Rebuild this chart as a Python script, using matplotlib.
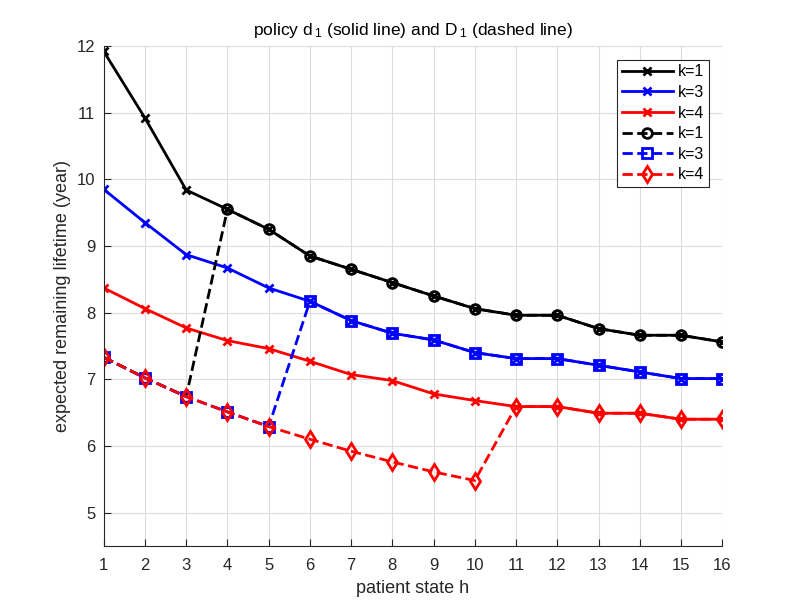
import numpy as np
import matplotlib.pyplot as plt

plt.rcParams['font.family'] = ['Liberation Sans', 'DejaVu Sans']
plt.rcParams['mathtext.fontset'] = 'custom'
plt.rcParams['mathtext.rm'] = 'Liberation Sans'
plt.rcParams['mathtext.it'] = 'Liberation Sans'

h = np.arange(1, 17)

# policy d1 (solid)
d1_k1 = [11.92, 10.92, 9.84, 9.55, 9.25, 8.85, 8.65, 8.45, 8.25, 8.06, 7.96, 7.96, 7.76, 7.66, 7.66, 7.56]
d1_k3 = [9.85, 9.35, 8.87, 8.67, 8.37, 8.17, 7.88, 7.69, 7.59, 7.40, 7.31, 7.31, 7.21, 7.11, 7.01, 7.01]
d1_k4 = [8.37, 8.06, 7.77, 7.58, 7.46, 7.27, 7.07, 6.98, 6.78, 6.68, 6.59, 6.59, 6.49, 6.49, 6.40, 6.40]

# policy D1 (dashed)
D1_k1 = [7.33, 7.02, 6.74] + d1_k1[3:]
D1_k3 = [7.33, 7.02, 6.74, 6.51, 6.29] + d1_k3[5:]
D1_k4 = [7.33, 7.02, 6.74, 6.51, 6.29, 6.10, 5.92, 5.76, 5.61, 5.48] + d1_k4[10:]

fig = plt.figure(figsize=(7.98, 6.14), dpi=100)
ax = fig.add_axes([0.130, 0.111, 0.775, 0.814])

ax.plot(h, d1_k1, '-x', color='black', lw=2, ms=6, mew=2, label='k=1')
ax.plot(h, d1_k3, '-x', color='blue', lw=2, ms=6, mew=2, label='k=3')
ax.plot(h, d1_k4, '-x', color='red', lw=2, ms=6, mew=2, label='k=4')
ax.plot(h, D1_k1, '--o', color='black', lw=2, ms=7, mew=2, mfc='none', label='k=1')
ax.plot(h, D1_k3, '--s', color='blue', lw=2, ms=6.5, mew=2, mfc='none', label='k=3')
ax.plot(h, D1_k4, '--d', color='red', lw=2, ms=8.5, mew=2, mfc='none', label='k=4')

ax.set_xlim(1, 16)
ax.set_ylim(4.5, 12)
ax.set_xticks(h)
ax.set_yticks(range(5, 13))
ax.grid(True, color='#dcdcdc', lw=0.8)
ax.set_axisbelow(True)
ax.tick_params(direction='in', labelsize=12, length=5, colors='#262626')
ax.tick_params(axis='x', pad=9)
ax.tick_params(axis='y', pad=6)
ax.spines['top'].set_visible(False)
ax.spines['right'].set_visible(False)
for s in ['left', 'bottom']:
    ax.spines[s].set_color('#262626')
    ax.spines[s].set_linewidth(0.8)

ax.set_xlabel('patient state h', fontsize=13, color='#262626', labelpad=5)
ax.set_ylabel('expected remaining lifetime (year)', fontsize=13, color='#262626')
ax.set_title('policy d$\\,_1$ (solid line) and D$\\,_1$ (dashed line)', fontsize=12.5, pad=8)

leg = ax.legend(loc='upper right', fontsize=11.5, fancybox=False, edgecolor='#262626',
                framealpha=1, handlelength=3.2, borderaxespad=0.85, borderpad=0.3,
                labelspacing=0.35, handletextpad=0.3)
leg.get_frame().set_linewidth(0.8)

plt.savefig('out.png')
